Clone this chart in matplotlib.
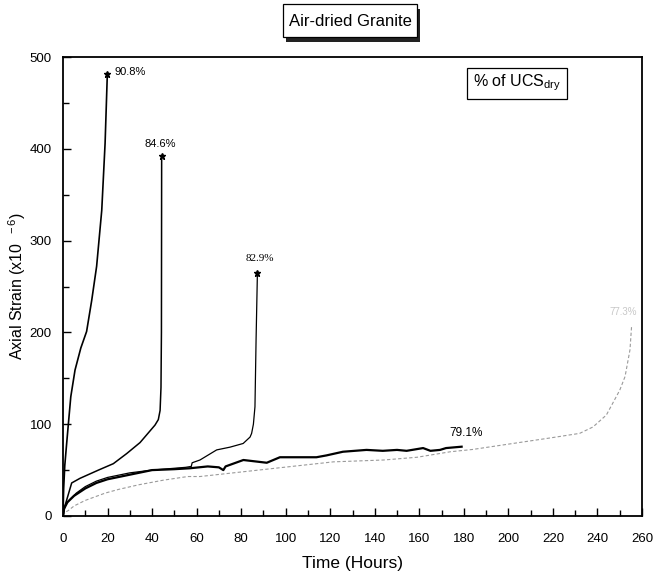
import matplotlib
matplotlib.use("Agg")
import matplotlib.pyplot as plt
from matplotlib import font_manager
from matplotlib.ticker import MultipleLocator
from matplotlib.patches import Rectangle

names = {f.name for f in font_manager.fontManager.ttflist}
FONT = "Liberation Sans Narrow" if "Liberation Sans Narrow" in names else "Liberation Sans"
plt.rcParams["font.family"] = [FONT, "DejaVu Sans"]
plt.rcParams["mathtext.fontset"] = "custom"
plt.rcParams["mathtext.rm"] = FONT

# ---- data (hours, axial strain x1e-6) ----
t_908 = [0, 0.3, 0.8, 1.5, 2.4, 3.5, 5.4, 8, 10.6, 12.9, 15.1, 17.4, 18.9, 19.9]
s_908 = [0, 30, 55, 75, 100, 130, 159, 183, 201, 235, 272, 333, 406, 481]

t_846 = [0, 0.5, 1.6, 3.9, 7.6, 15.9, 22.6, 28.6, 34.6, 41.3, 42.8, 43.6, 44.0, 44.2, 44.3]
s_846 = [0, 8, 17, 36, 41, 50, 57, 68, 80, 99, 105, 115, 140, 200, 392]

t_829 = [0, 1, 3, 6, 10, 15, 20, 30, 40, 50, 55, 57.6, 58, 61.5, 69, 75, 80.9, 84, 84.7, 85.5, 86.2, 86.7, 87.3]
s_829 = [0, 12, 18, 25, 32, 38, 42, 47, 50, 52, 53, 54, 58, 61, 72, 75, 79, 86, 90, 100, 119, 192, 265]

t_791 = [0, 0.5, 2, 5, 10, 15, 20, 30, 40, 50, 57, 65, 70, 72, 73, 81, 91.5, 97.4, 113.8, 118.3,
         125.7, 136.3, 143.6, 150, 154.3, 161.7, 165, 169.3, 172, 179]
s_791 = [0, 8, 15, 22, 30, 36, 40, 45, 50, 51, 52, 54, 53, 50, 54, 61, 58, 64, 64, 66,
         70, 72, 71, 72, 71, 74, 71, 72, 74, 75.5]

t_gray = [0, 1, 2.4, 5, 10, 19, 25, 34, 45, 56, 61.5, 76.5, 99, 121.5, 144, 159, 174, 184,
          202, 218.7, 232, 238, 244, 250, 252.4, 254.6, 255.3]
s_gray = [0, 4, 6, 11, 17, 25, 29, 34, 39, 43, 43, 47, 53, 59, 61, 64, 70, 72.5,
          79, 85, 90, 97, 110, 137, 152, 181, 206]

labels = ["90.8%", "84.6%", "82.9%", "79.1%", "77.3%"]

fig = plt.figure(figsize=(6.55, 5.77), dpi=100)
ax = fig.add_axes([63/655, 1-516/577, (642-63)/655, (516-57)/577])

ax.plot(t_gray, s_gray, color="#9a9a9a", lw=0.8, ls=(0, (3, 2)))
ax.plot(t_791, s_791, color="black", lw=1.6)
ax.plot(t_829, s_829, color="black", lw=0.9)
ax.plot(t_846, s_846, color="black", lw=1.1)
ax.plot(t_908, s_908, color="black", lw=1.2)
for tt, ss in ((t_908, s_908), (t_846, s_846), (t_829, s_829)):
    ax.plot(tt[-1], ss[-1], marker="*", color="black", ms=5)

ax.text(23, 484, labels[0], fontsize=8, va="center", ha="left")
ax.text(43.6, 405, labels[1], fontsize=8, va="center", ha="center")
ax.text(88.5, 280, labels[2], fontsize=8, va="center", ha="center", family="Liberation Serif")
ax.text(181, 90, labels[3], fontsize=8.5, va="center", ha="center")
ax.text(251.5, 222, labels[4], fontsize=7, va="center", ha="center", color="#c8c8c8")

ax.set_xlim(0, 260)
ax.set_ylim(0, 500)
ax.xaxis.set_major_locator(MultipleLocator(20))
ax.xaxis.set_minor_locator(MultipleLocator(10))
ax.yaxis.set_major_locator(MultipleLocator(100))
ax.yaxis.set_minor_locator(MultipleLocator(50))
ax.tick_params(which="both", direction="in", top=False, right=False, labelsize=9.5, width=1)
ax.tick_params(which="major", length=6)
ax.tick_params(which="minor", length=4)
ax.tick_params(axis="x", which="major", pad=12)
ax.tick_params(axis="y", which="major", pad=8)
for sp in ax.spines.values():
    sp.set_linewidth(1.3)

ax.set_xlabel("Time (Hours)", fontsize=12.5, labelpad=8)
ax.set_ylabel(r"Axial Strain (x10$^{\ \ -6}$)", fontsize=11.5)
ax.yaxis.set_label_coords(-35/579, 0.5)

# title box with shadow
fig.patches.append(Rectangle((286/655, 1-42/577), 134/655, 33/577, transform=fig.transFigure,
                             facecolor="#222222", edgecolor="none"))
fig.patches.append(Rectangle((283/655, 1-37/577), 134/655, 33/577, transform=fig.transFigure,
                             facecolor="white", edgecolor="black", lw=0.9))
fig.text(350/655, 1-21/577, "Air-dried Granite", fontsize=12, ha="center", va="center")

# legend label box
ax.add_patch(Rectangle((467/655, 1-99/577), 100/655, 31/577, transform=fig.transFigure,
                       facecolor="white", edgecolor="black", lw=0.9))
fig.text(517/655, 1-83/577, r"% of UCS$_{\mathrm{dry}}$", fontsize=11.5, ha="center", va="center")

fig.savefig("out.png", dpi=100)
